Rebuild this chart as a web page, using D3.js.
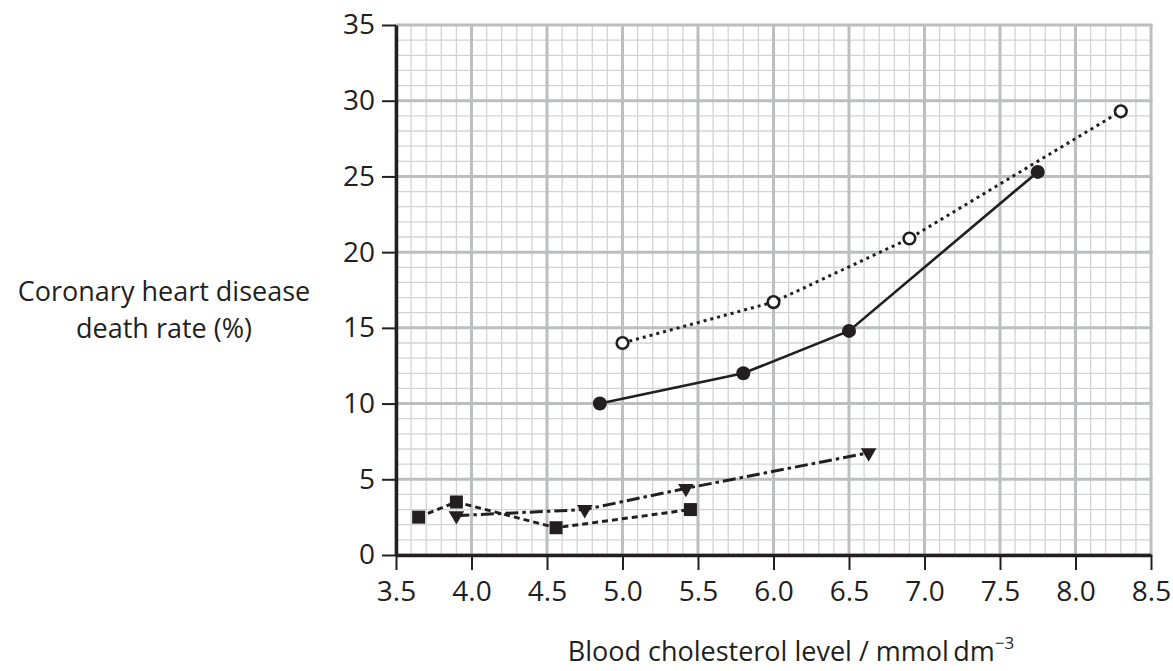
<!DOCTYPE html>
<html>
<head>
<meta charset="utf-8">
<script src="https://cdn.jsdelivr.net/npm/d3@7"></script>
<style>
  html, body { margin: 0; padding: 0; background: #fff; }
  svg { display: block; font-family: "Open Sans", "Noto Sans", sans-serif; }
</style>
</head>
<body>
<svg id="chart" width="1173" height="671"></svg>
<script>
// ---- data ----
const filledX = [4.85, 5.8, 6.5, 7.75];
const filledY = [10.0, 12.0, 14.8, 25.3];

const openX = [5.0, 6.0, 6.9, 8.3];
const openY = [14.0, 16.7, 20.9, 29.3];

const triangleX = [3.9, 4.75, 5.42, 6.63];
const triangleY = [2.6, 3.0, 4.4, 6.75];

const squareX = [3.65, 3.9, 4.56, 5.45];
const squareY = [2.5, 3.5, 1.8, 3.0];

const xTickValues = [3.5, 4.0, 4.5, 5.0, 5.5, 6.0, 6.5, 7.0, 7.5, 8.0, 8.5];
const yTickValues = [0, 5, 10, 15, 20, 25, 30, 35];
const xDomain = [3.5, 8.5];
const yDomain = [0, 35];
const xMinorStep = 0.1;
const yMinorStep = 1;

const yTitleLines = ["Coronary heart disease", "death rate (%)"];
const xTitleMain = "Blood cholesterol level / mmol\u2009dm";
const xTitleSup = "\u22123";

// ---- drawing ----
const INK = "#231f20";
const svg = d3.select("#chart");
const x = d3.scaleLinear().domain(xDomain).range([396, 1151]);
const y = d3.scaleLinear().domain(yDomain).range([555, 25]);

const xMinor = d3.range(Math.round((xDomain[1] - xDomain[0]) / xMinorStep) + 1)
  .map(i => +(xDomain[0] + i * xMinorStep).toFixed(2));
const yMinor = d3.range(Math.round((yDomain[1] - yDomain[0]) / yMinorStep) + 1)
  .map(i => yDomain[0] + i * yMinorStep);

const grid = svg.append("g");
// minor grid
grid.selectAll("line.vx").data(xMinor).join("line")
  .attr("x1", d => x(d)).attr("x2", d => x(d))
  .attr("y1", y(yDomain[0])).attr("y2", y(yDomain[1]))
  .attr("stroke", "#d1d3d4").attr("stroke-width", 1.3);
grid.selectAll("line.hy").data(yMinor).join("line")
  .attr("y1", d => y(d)).attr("y2", d => y(d))
  .attr("x1", x(xDomain[0])).attr("x2", x(xDomain[1]))
  .attr("stroke", "#d1d3d4").attr("stroke-width", 1.3);
// major grid
const g2 = svg.append("g");
g2.selectAll("line").data(xTickValues).join("line")
  .attr("x1", d => x(d)).attr("x2", d => x(d))
  .attr("y1", y(yDomain[0])).attr("y2", y(yDomain[1]) - 1)
  .attr("stroke", "#bcbec0").attr("stroke-width", 3);
const g3 = svg.append("g");
g3.selectAll("line").data(yTickValues).join("line")
  .attr("y1", d => y(d)).attr("y2", d => y(d))
  .attr("x1", x(xDomain[0])).attr("x2", x(xDomain[1]) + 1.5)
  .attr("stroke", "#bcbec0").attr("stroke-width", 3);

// axes
const xAxis = d3.axisBottom(x).tickValues(xTickValues).tickFormat(d3.format(".1f"))
  .tickSize(15).tickSizeOuter(0).tickPadding(11);
const yAxis = d3.axisLeft(y).tickValues(yTickValues).tickFormat(d3.format("d"))
  .tickSize(14).tickSizeOuter(0).tickPadding(7);

function styleAxis(g) {
  g.select(".domain").attr("stroke", INK).attr("stroke-width", 3.5);
  g.selectAll(".tick line").attr("stroke", INK).attr("stroke-width", 2);
  g.selectAll(".tick text").attr("fill", INK).attr("font-size", 28)
    .attr("font-family", "'Open Sans', sans-serif");
}
svg.append("g").attr("transform", `translate(0,${y(0)})`).call(xAxis).call(styleAxis);
svg.append("g").attr("transform", `translate(${x(xDomain[0])},0)`).call(yAxis).call(styleAxis);

// series
function pts(xs, ys) { return xs.map((v, i) => [v, ys[i]]); }
const line = d3.line().x(d => x(d[0])).y(d => y(d[1]));

const seriesDefs = [
  { data: pts(openX, openY), dash: "3,4", width: 3 },
  { data: pts(filledX, filledY), dash: null, width: 2.6 },
  { data: pts(triangleX, triangleY), dash: "13,4,3.5,4", width: 3 },
  { data: pts(squareX, squareY), dash: "6,4", width: 3 }
];
svg.append("g").selectAll("path").data(seriesDefs).join("path")
  .attr("d", d => line(d.data))
  .attr("fill", "none").attr("stroke", INK)
  .attr("stroke-width", d => d.width)
  .attr("stroke-dasharray", d => d.dash);

// markers
const mk = svg.append("g");
mk.selectAll("circle.f").data(pts(filledX, filledY)).join("circle")
  .attr("cx", d => x(d[0])).attr("cy", d => y(d[1])).attr("r", 7)
  .attr("fill", INK);
mk.selectAll("circle.o").data(pts(openX, openY)).join("circle")
  .attr("cx", d => x(d[0])).attr("cy", d => y(d[1])).attr("r", 5.8)
  .attr("fill", "#fff").attr("stroke", INK).attr("stroke-width", 2.6);
mk.selectAll("path.sq").data(pts(squareX, squareY)).join("path")
  .attr("d", d3.symbol(d3.symbolSquare, 169)())
  .attr("transform", d => `translate(${x(d[0])},${y(d[1])})`)
  .attr("fill", INK);
mk.selectAll("path.tri").data(pts(triangleX, triangleY)).join("path")
  .attr("d", d3.symbol(d3.symbolTriangle, 105)())
  .attr("transform", d => `translate(${x(d[0])},${y(d[1])}) rotate(180)`)
  .attr("fill", INK);

// titles
const yt = svg.append("text").attr("text-anchor", "middle").attr("fill", INK)
  .attr("font-size", 27);
yt.selectAll("tspan").data(yTitleLines).join("tspan")
  .attr("x", 164).attr("y", (d, i) => 301 + i * 37).text(d => d);

const xt = svg.append("text").attr("text-anchor", "middle").attr("fill", INK)
  .attr("font-size", 27).attr("x", 791).attr("y", 661);
xt.append("tspan").text(xTitleMain);
xt.append("tspan").attr("font-size", 17).attr("dy", -12).text(xTitleSup);
</script>
</body>
</html>
